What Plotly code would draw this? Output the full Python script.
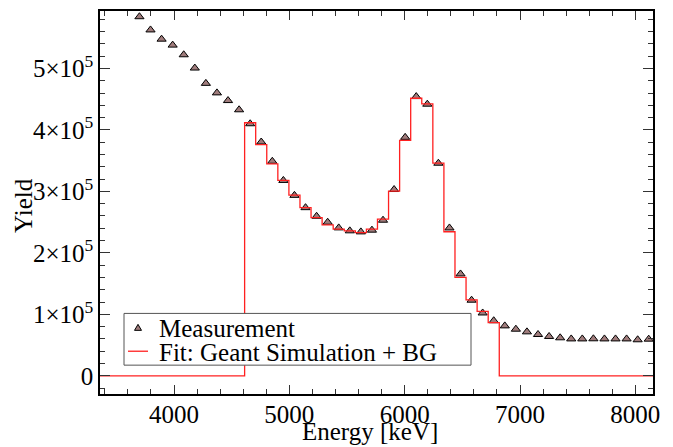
import plotly.graph_objects as go

# ---------------- data ----------------
energies = [3700, 3796, 3892, 3988, 4084, 4180, 4276, 4372, 4468, 4564,
            4660, 4756, 4852, 4948, 5044, 5140, 5236, 5332, 5428, 5524,
            5620, 5716, 5812, 5908, 6004, 6100, 6196, 6292, 6388, 6484,
            6580, 6676, 6772, 6868, 6964, 7060, 7156, 7252, 7348, 7444,
            7540, 7636, 7732, 7828, 7924, 8020, 8116]
bin_width = 96

measurement = [584100, 562600, 547600, 537900, 522200, 500600, 475700, 460200, 447700, 432700,
               410000, 380300, 349000, 317800, 293500, 273500, 259500, 249800, 240600, 235800,
               234100, 236900, 253100, 303000, 387900, 454200, 441800, 345800, 240500, 165700,
               123000, 102200, 89600, 81200, 75800, 71500, 67200, 64000, 61800, 60000,
               60000, 60200, 60000, 60000, 60000, 58600, 59600]

fit = [0, 0, 0, 0, 0, 0, 0, 0, 0, 0,
       411600, 376000, 344700, 317800, 294000, 273500, 257300, 245500, 238500, 235800,
       233000, 238500, 254700, 300500, 382800, 451500, 442400, 345800, 234300, 160200,
       123600, 104700, 86400, 0, 0, 0, 0, 0, 0, 0,
       0, 0, 0, 0, 0, 0, 0]

series_names = ["Measurement", "Fit: Geant Simulation + BG"]

x_range = [3358, 8153]
y_range = [-29600, 593400]
y_tickvals = [0, 100000, 200000, 300000, 400000, 500000]
y_ticktext = ["0", "1×10<sup>5</sup>", "2×10<sup>5</sup>", "3×10<sup>5</sup>",
              "4×10<sup>5</sup>", "5×10<sup>5</sup>"]
x_tickvals = [4000, 5000, 6000, 7000, 8000]

# step histogram coordinates built from the bin data
step_x = [x_range[0]] + [e - bin_width / 2 for e in energies] + [energies[-1] + bin_width / 2, x_range[1]]
step_y = [0] + fit + [0, 0]

FONT = "Liberation Serif, Times New Roman, serif"
FS = 25
W, H = 673, 447
ML, MR, MT, MB = 100, 20, 9, 53
PW, PH = W - ML - MR, H - MT - MB
MARKER_FILL = "#a07c7c"
FIT_COLOR = "#ff2020"


def px(xpix):
    return (xpix - ML) / PW


def py(ypix):
    return (MT + PH - ypix) / PH


fig = go.Figure()
fig.add_trace(go.Scatter(
    x=energies, y=measurement, mode="markers", name=series_names[0],
    marker=dict(symbol="triangle-up", size=8, color=MARKER_FILL,
                line=dict(color="black", width=1)),
    showlegend=False,
))
fig.add_trace(go.Scatter(
    x=step_x, y=step_y, mode="lines", name=series_names[1],
    line=dict(color=FIT_COLOR, width=1.3, shape="hv"),
    showlegend=False,
))

axis_common = dict(
    showgrid=False, zeroline=False, showline=True, linecolor="black", linewidth=1.5,
    mirror="ticks", ticks="inside", tickcolor="#333333", tickwidth=1,
    tickfont=dict(family=FONT, size=FS, color="black"),
)

fig.update_xaxes(
    range=x_range, tickvals=x_tickvals, ticklen=9, ticklabelstandoff=-3,
    minor=dict(dtick=200, tick0=0, ticklen=5, ticks="inside", tickcolor="#333333"),
    **axis_common,
)
fig.update_yaxes(
    range=y_range, tickvals=y_tickvals, ticktext=y_ticktext, ticklen=10,
    minor=dict(dtick=20000, tick0=0, ticklen=5, ticks="inside", tickcolor="#333333"),
    **axis_common,
)

# legend box (drawn manually to match the compact ROOT-style legend)
shapes = [
    dict(type="rect", xref="paper", yref="paper", x0=px(124), x1=px(471), y0=py(365), y1=py(313),
         line=dict(color="#555555", width=1), fillcolor="white", layer="above"),
    dict(type="path", xref="paper", yref="paper", xsizemode="pixel", ysizemode="pixel",
         xanchor=px(138), yanchor=py(327.5), path="M-3.5,-2.5 L3.5,-2.5 L0,3.5 Z",
         fillcolor=MARKER_FILL, line=dict(color="black", width=1), layer="above"),
    dict(type="line", xref="paper", yref="paper", x0=px(128), x1=px(148), y0=py(351), y1=py(351),
         line=dict(color=FIT_COLOR, width=1.3), layer="above"),
]

annotations = [
    dict(text=series_names[0], xref="paper", yref="paper", x=px(157), y=py(328),
         xanchor="left", yanchor="middle", showarrow=False,
         font=dict(family=FONT, size=FS, color="black")),
    dict(text=series_names[1], xref="paper", yref="paper", x=px(157), y=py(352),
         xanchor="left", yanchor="middle", showarrow=False,
         font=dict(family=FONT, size=FS, color="black")),
    dict(text="Energy [keV]", xref="paper", yref="paper", x=px(370),
         y=py(447), xanchor="center", yanchor="bottom", showarrow=False,
         font=dict(family=FONT, size=FS, color="black")),
    dict(text="Yield", xref="paper", yref="paper", x=px(24),
         y=py(205), xanchor="center", yanchor="middle", textangle=-90,
         showarrow=False, font=dict(family=FONT, size=FS, color="black")),
]

fig.update_layout(
    width=W, height=H,
    margin=dict(l=ML, r=MR, t=MT, b=MB),
    paper_bgcolor="white", plot_bgcolor="white",
    font=dict(family=FONT, color="black"),
    showlegend=False,
    shapes=shapes,
    annotations=annotations,
)

fig.write_html(
    "out.html",
    config={"displayModeBar": False},
    post_script="document.body.style.margin='0';document.body.style.overflow='hidden';",
)
